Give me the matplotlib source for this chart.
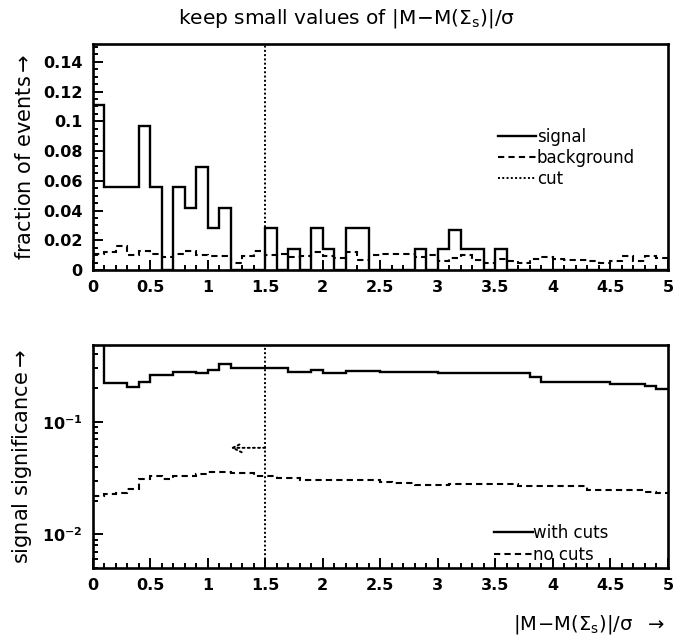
import numpy as np
import matplotlib
matplotlib.use("Agg")
import matplotlib.pyplot as plt
from matplotlib.ticker import MultipleLocator, LogLocator, NullFormatter

# ---------------- data ----------------
bin_edges = np.round(np.linspace(0.0, 5.0, 51), 3)

signal = [0.111, 0.056, 0.056, 0.056, 0.097, 0.056, 0.0, 0.056, 0.042, 0.069,
          0.028, 0.042, 0.0, 0.0, 0.0, 0.028, 0.0, 0.014, 0.0, 0.028,
          0.014, 0.0, 0.028, 0.028, 0.0, 0.0, 0.0, 0.0, 0.014, 0.0,
          0.014, 0.027, 0.014, 0.014, 0.0, 0.014, 0.0, 0.0, 0.0, 0.0,
          0.0, 0.0, 0.0, 0.0, 0.0, 0.0, 0.0, 0.0, 0.0, 0.0]

background = [0.011, 0.012, 0.016, 0.010, 0.013, 0.011, 0.009, 0.011, 0.013, 0.010,
              0.0095, 0.0095, 0.005, 0.0095, 0.013, 0.010, 0.011, 0.009, 0.0095, 0.012,
              0.0095, 0.008, 0.012, 0.007, 0.010, 0.011, 0.011, 0.011, 0.009, 0.010,
              0.0063, 0.008, 0.010, 0.0068, 0.0045, 0.0072, 0.0063, 0.0045, 0.0072, 0.0085,
              0.0074, 0.007, 0.007, 0.006, 0.0047, 0.006, 0.0095, 0.006, 0.0095, 0.008]

with_cuts = [0.6, 0.222, 0.222, 0.204, 0.225, 0.263, 0.263, 0.281, 0.281, 0.272,
             0.291, 0.327, 0.301, 0.301, 0.301, 0.301, 0.301, 0.278, 0.278, 0.291,
             0.272, 0.272, 0.287, 0.287, 0.287, 0.277, 0.277, 0.277, 0.277, 0.277,
             0.272, 0.272, 0.272, 0.272, 0.272, 0.272, 0.272, 0.272, 0.254, 0.229,
             0.229, 0.229, 0.229, 0.229, 0.229, 0.219, 0.219, 0.219, 0.210, 0.196]

no_cuts = [0.0219, 0.0231, 0.0235, 0.0255, 0.0312, 0.0334, 0.0312, 0.0330, 0.0330, 0.0348,
           0.0357, 0.0357, 0.0350, 0.0350, 0.0330, 0.0330, 0.0320, 0.0320, 0.0303, 0.0303,
           0.0303, 0.0303, 0.0303, 0.0303, 0.0303, 0.0295, 0.0288, 0.0285, 0.0278, 0.0274,
           0.0274, 0.0282, 0.0282, 0.0282, 0.0282, 0.0282, 0.0282, 0.0270, 0.0270, 0.0270,
           0.0270, 0.0270, 0.0270, 0.0251, 0.0251, 0.0251, 0.0251, 0.0251, 0.0240, 0.0234]

cut_value = 1.5
arrow_tip = 1.2
arrow_level = 0.059

x_ticks = [0, 0.5, 1, 1.5, 2, 2.5, 3, 3.5, 4, 4.5, 5]
x_ticklabels = ['0', '0.5', '1', '1.5', '2', '2.5', '3', '3.5', '4', '4.5', '5']
y_ticks_top = [0, 0.02, 0.04, 0.06, 0.08, 0.1, 0.12, 0.14]
y_ticklabels_top = ['0', '0.02', '0.04', '0.06', '0.08', '0.1', '0.12', '0.14']

title = r"keep small values of $\mathregular{|M\!-\!M(\Sigma_s)|/\sigma}$"
xlabel = r"$\mathregular{|M\!-\!M(\Sigma_s)|/\sigma}$  $\rightarrow$"
ylabel_top = r"fraction of events$\rightarrow$"
ylabel_bot = r"signal significance$\rightarrow$"

# ---------------- figure ----------------
plt.rcParams['font.family'] = ['DejaVu Sans']
plt.rcParams['mathtext.fontset'] = 'dejavusans'
W, H = 675, 643
fig = plt.figure(figsize=(W / 100, H / 100), dpi=100)

L = 92.5 / W
Wd = (668 - 92.5) / W
ax1 = fig.add_axes([L, 1 - 270 / H, Wd, (270 - 44) / H])
ax2 = fig.add_axes([L, 1 - 568.3 / H, Wd, (568.3 - 345) / H])

lw = 1.7
dash = (0, (3.0, 2.0))
dot = (0, (1.0, 1.2))

# top panel
ax1.stairs(signal, bin_edges, color='black', lw=lw, baseline=0, label='signal')
ax1.stairs(background, bin_edges, color='black', lw=1.5, linestyle=dash,
           baseline=None, label='background')
ax1.axvline(cut_value, color='black', lw=1.4, linestyle=dot, label='cut')
ax1.set_xlim(0, 5)
ax1.set_ylim(0, 0.152)
ax1.xaxis.set_minor_locator(MultipleLocator(0.1))
ax1.yaxis.set_minor_locator(MultipleLocator(0.005))
ax1.set_yticks(y_ticks_top)
ax1.set_yticklabels(y_ticklabels_top)
ax1.set_xticks(x_ticks)
ax1.set_xticklabels(x_ticklabels)
ax1.set_ylabel(ylabel_top, fontsize=15, labelpad=6)
ax1.legend(loc='upper left', bbox_to_anchor=(0.704, 0.63), frameon=False,
           fontsize=12, handlelength=2.3, handletextpad=0.05, labelspacing=0.2,
           borderaxespad=0, borderpad=0)

# bottom panel
ax2.stairs(with_cuts, bin_edges, color='black', lw=lw, baseline=None, label='with cuts')
ax2.stairs(no_cuts, bin_edges, color='black', lw=1.5, linestyle=dash,
           baseline=None, label='no cuts')
ax2.axvline(cut_value, color='black', lw=1.4, linestyle=dot)
ax2.annotate('', xy=(arrow_tip, arrow_level), xytext=(cut_value, arrow_level),
             arrowprops=dict(arrowstyle='->', color='black', lw=1.4,
                             linestyle=':', shrinkA=0, shrinkB=0,
                             mutation_scale=16))
ax2.set_yscale('log')
ax2.set_xlim(0, 5)
ax2.set_ylim(0.005, 0.485)
ax2.xaxis.set_minor_locator(MultipleLocator(0.1))
ax2.set_xticks(x_ticks)
ax2.set_xticklabels(x_ticklabels)
ax2.yaxis.set_major_locator(LogLocator(base=10, numticks=10))
ax2.yaxis.set_minor_locator(LogLocator(base=10, subs=np.arange(2, 10), numticks=10))
ax2.yaxis.set_minor_formatter(NullFormatter())
ax2.set_ylabel(ylabel_bot, fontsize=15, labelpad=6)
ax2.legend(loc='upper left', bbox_to_anchor=(0.698, 0.197), frameon=False,
           fontsize=12, handlelength=2.3, handletextpad=0.05, labelspacing=0.2,
           borderaxespad=0, borderpad=0)

for ax in (ax1, ax2):
    for s in ax.spines.values():
        s.set_linewidth(1.9)
    ax.tick_params(which='both', direction='in', top=False, right=False,
                   labelsize=11.5, width=1.4, pad=7)
    ax.tick_params(which='major', length=7)
    ax.tick_params(which='minor', length=3.5)
    for lab in ax.get_xticklabels() + ax.get_yticklabels():
        lab.set_fontweight('bold')

fig.text(0.514, 0.972, title, ha='center', va='center', fontsize=14.5)
fig.text(0.985, 0.028, xlabel, ha='right', va='center', fontsize=14)

fig.savefig('out.png', dpi=100)
